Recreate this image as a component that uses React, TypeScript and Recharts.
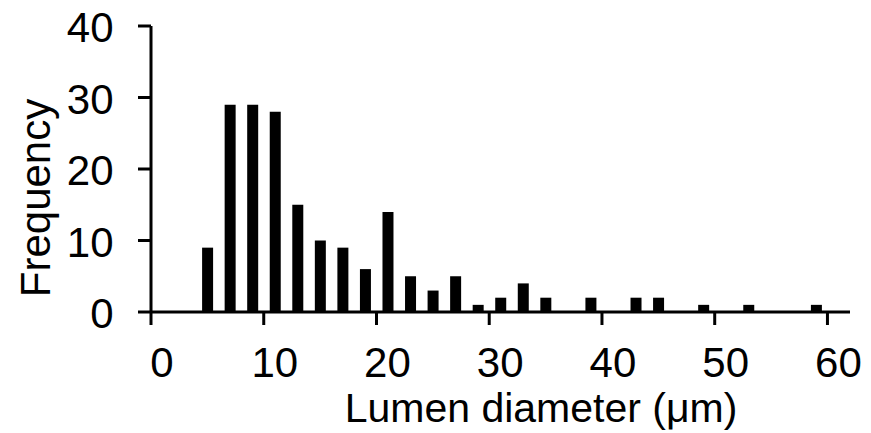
import React from 'react';
import { BarChart, Bar, XAxis, YAxis } from 'recharts';

const diameters = [5, 7, 9, 11, 13, 15, 17, 19, 21, 23, 25, 27, 29, 31, 33, 35, 37, 39, 41, 43, 45, 47, 49, 51, 53, 55, 57, 59];
const frequencies = [9, 29, 29, 28, 15, 10, 9, 6, 14, 5, 3, 5, 1, 2, 4, 2, 0, 2, 0, 2, 2, 0, 1, 0, 1, 0, 0, 1];
const xTicks = [0, 10, 20, 30, 40, 50, 60];
const yTicks = [0, 10, 20, 30, 40];
const xLabel = 'Lumen diameter (μm)';
const yLabel = 'Frequency';

const data = diameters.map((d, i) => ({ diameter: d, frequency: frequencies[i] }));

const FONT = 'Liberation Sans, Arial, Helvetica, sans-serif';
const FS = 42;

const XTick = (props: any) => {
  const { x, y, payload } = props;
  return (
    <text x={x + 11} y={y} dy={30} textAnchor="middle" fontSize={FS} fontFamily={FONT} fill="#000">
      {payload.value}
    </text>
  );
};

const YTick = (props: any) => {
  const { x, y, payload } = props;
  return (
    <text x={x} y={y} dy={16} textAnchor="end" fontSize={FS} fontFamily={FONT} fill="#000">
      {payload.value}
    </text>
  );
};

const XLabel = (props: any) => {
  const vb = props.viewBox || { x: 0, y: 0, width: 0, height: 0 };
  return (
    <text x={vb.x + vb.width / 2 + 40.5} y={vb.y + 110} textAnchor="middle" fontSize={41} fontFamily={FONT} fill="#000">
      {xLabel}
    </text>
  );
};

const YLabel = (props: any) => {
  const vb = props.viewBox || { x: 0, y: 0, width: 0, height: 0 };
  const cx = 50;
  const cy = vb.y + vb.height / 2 + 29;
  return (
    <text x={cx} y={cy} transform={`rotate(-90, ${cx}, ${cy})`} textAnchor="middle" fontSize={FS} fontFamily={FONT} fill="#000">
      {yLabel}
    </text>
  );
};

export default function App() {
  return (
    <div style={{ position: 'absolute', left: 0, top: 0, background: '#fff' }}>
      <BarChart width={871} height={433} data={data} margin={{ top: 26, right: 21, bottom: 61, left: 0 }} barSize={11}>
        <XAxis
          dataKey="diameter"
          type="number"
          domain={[0, 62]}
          ticks={xTicks}
          interval={0}
          height={60}
          tickSize={13}
          tickMargin={22}
          axisLine={{ stroke: '#000', strokeWidth: 3 }}
          tickLine={{ stroke: '#000', strokeWidth: 3 }}
          tick={XTick}
          allowDataOverflow
          label={{ content: XLabel }}
        />
        <YAxis
          type="number"
          domain={[0, 40]}
          ticks={yTicks}
          interval={0}
          width={151}
          tickSize={13}
          tickMargin={24.5}
          axisLine={{ stroke: '#000', strokeWidth: 3 }}
          tickLine={{ stroke: '#000', strokeWidth: 3 }}
          tick={YTick}
          label={{ content: YLabel }}
        />
        <Bar dataKey="frequency" fill="#000" isAnimationActive={false} />
      </BarChart>
    </div>
  );
}
